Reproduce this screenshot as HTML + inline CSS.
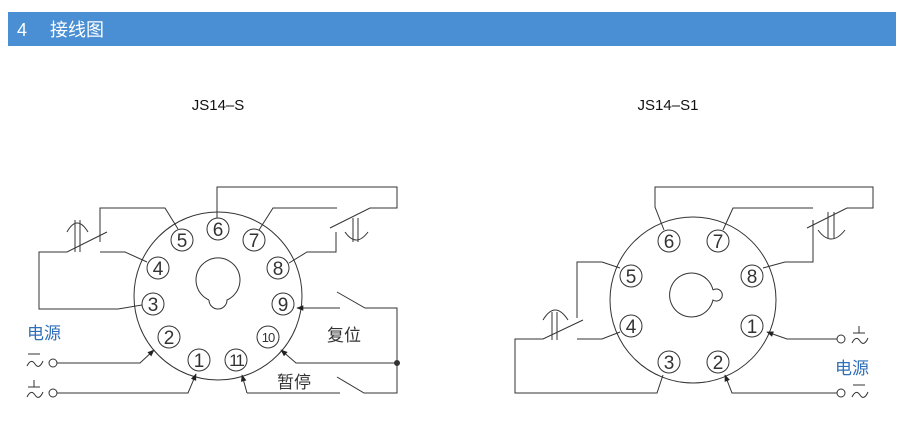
<!DOCTYPE html>
<html><head><meta charset="utf-8"><style>
html,body{margin:0;padding:0;background:#fff;width:904px;height:425px;overflow:hidden}
</style></head><body>
<svg width="904" height="425" viewBox="0 0 904 425" xmlns="http://www.w3.org/2000/svg">
<defs>
<marker id="ar" viewBox="0 0 10 10" refX="9" refY="5" markerWidth="9" markerHeight="7" orient="auto" markerUnits="userSpaceOnUse">
<path d="M0,1 L10,5 L0,9 z" fill="#222"/></marker>
</defs>
<rect x="8" y="12" width="888" height="34" fill="#4a8fd3"/>
<text x="17" y="36" font-family="Liberation Sans, sans-serif" font-size="18" fill="#fff">4</text>
<text x="50" y="36" font-family="Liberation Sans, 'Noto Sans CJK SC', sans-serif" font-size="18" fill="#fff">接线图</text>
<text x="218" y="110" text-anchor="middle" font-family="Liberation Sans, sans-serif" font-size="15" fill="#111">JS14–S</text>
<text x="668" y="110" text-anchor="middle" font-family="Liberation Sans, sans-serif" font-size="15" fill="#111">JS14–S1</text>

<g fill="none" stroke="#333" stroke-width="1">
<circle cx="218" cy="296" r="84"/>
<path d="M209,300 A22,22 0 1 1 227,300 A6,6 0 1 1 209,300"/>
<path d="M217,218 V187 H397 V208 H370 L330,228"/>
<path d="M259,230 L273,208 H337"/>
<path d="M289,263 L307,252 H336 V232"/>
<path d="M353,218 V242 M358,218 V242 M345,232 Q356,248 368,232"/>
<path d="M178,229 L165,208 H100 V242"/>
<path d="M107,232 L67,252 H39 V309 H118 L142,305"/>
<path d="M147,262 L125,252 H100"/>
<path d="M75,220 V252 M80,220 V252 M67,232 Q77,214 88,232"/>
<path d="M57,363 H140 L154,350" marker-end="url(#ar)"/>
<path d="M57,393 H188 L196,374" marker-end="url(#ar)"/>
<circle cx="53" cy="363" r="4"/><circle cx="53" cy="393" r="4"/>
<path d="M28,354 H40 M27,366 Q31,358 35,364 Q39,370 43,361"/>
<path d="M28,387 H40 M34,380 V387 M27,397 Q31,389 35,395 Q39,401 43,392"/>
<path d="M247,393 L242,375" marker-end="url(#ar)"/>
<path d="M247,393 H340 M337,377 L364,393 H397 V308 H365 L337,292"/>
<path d="M340,308 H297" marker-end="url(#ar)"/>
<path d="M397,363 H296 L281,350" marker-end="url(#ar)"/>
<circle cx="397" cy="363" r="2.5" fill="#333"/>

<circle cx="693" cy="300" r="83"/>
<path d="M713,290 A22,22 0 1 0 713,300 A6,6 0 1 0 713,290"/>
<path d="M664,230 L655,207 V187 H873 V208 H847 L807,228"/>
<path d="M723,230 L733,208 H813"/>
<path d="M763,268 L785,262 H813 V220"/>
<path d="M828,212 V238 M834,212 V238 M818,230 Q831,248 845,230"/>
<path d="M620,268 L602,262 H577 V318"/>
<path d="M583,320 L543,339 H515 V393 H657 L663,375"/>
<path d="M620,332 L602,339 H577"/>
<path d="M552,312 V340 M557,312 V340 M543,320 Q555,300 568,320"/>
<path d="M837,339 H787 L767,332" marker-end="url(#ar)"/>
<path d="M837,393 H732 L725,375" marker-end="url(#ar)"/>
<circle cx="841" cy="339" r="4"/><circle cx="841" cy="393" r="4"/>
<path d="M853,333 H865 M859,326 V333 M852,343 Q856,335 860,341 Q864,347 868,338"/>
<path d="M853,385 H865 M852,397 Q856,389 860,395 Q864,401 868,392"/>
</g>

<g fill="#fff" stroke="#333" stroke-width="1">
<circle cx="182" cy="240" r="11"/><circle cx="218" cy="229" r="11"/><circle cx="254" cy="240" r="11"/>
<circle cx="158" cy="268" r="11"/><circle cx="278" cy="268" r="11"/>
<circle cx="153" cy="304" r="11"/><circle cx="283" cy="304" r="11"/>
<circle cx="169" cy="337" r="11"/><circle cx="268" cy="337" r="11"/>
<circle cx="199" cy="360" r="11"/><circle cx="236" cy="360" r="11"/>
<circle cx="669" cy="241" r="11"/><circle cx="718" cy="241" r="11"/>
<circle cx="631" cy="276" r="11"/><circle cx="752" cy="276" r="11"/>
<circle cx="631" cy="326" r="11"/><circle cx="752" cy="326" r="11"/>
<circle cx="669" cy="362" r="11"/><circle cx="718" cy="362" r="11"/>
</g>
<g font-family="Liberation Sans, sans-serif" font-size="19" fill="#333" text-anchor="middle">
<text x="182" y="247">5</text><text x="218" y="236">6</text><text x="254" y="247">7</text>
<text x="158" y="275">4</text><text x="278" y="275">8</text>
<text x="153" y="311">3</text><text x="283" y="311">9</text>
<text x="169" y="344">2</text><text x="268" y="342" font-size="13" letter-spacing="-1">10</text>
<text x="199" y="367">1</text><text x="236" y="366" font-size="17" letter-spacing="-2">11</text>
<text x="669" y="248">6</text><text x="718" y="248">7</text>
<text x="631" y="283">5</text><text x="752" y="283">8</text>
<text x="631" y="333">4</text><text x="752" y="333">1</text>
<text x="669" y="369">3</text><text x="718" y="369">2</text>
</g>
<g font-family="Liberation Sans, 'Noto Sans CJK SC', sans-serif" font-size="17">
<text x="27" y="339" fill="#2f6fb8">电源</text>
<text x="835" y="374" fill="#2f6fb8">电源</text>
<text x="327" y="341" fill="#333">复位</text>
<text x="277" y="388" fill="#333">暂停</text>
</g>
</svg>
</body></html>
